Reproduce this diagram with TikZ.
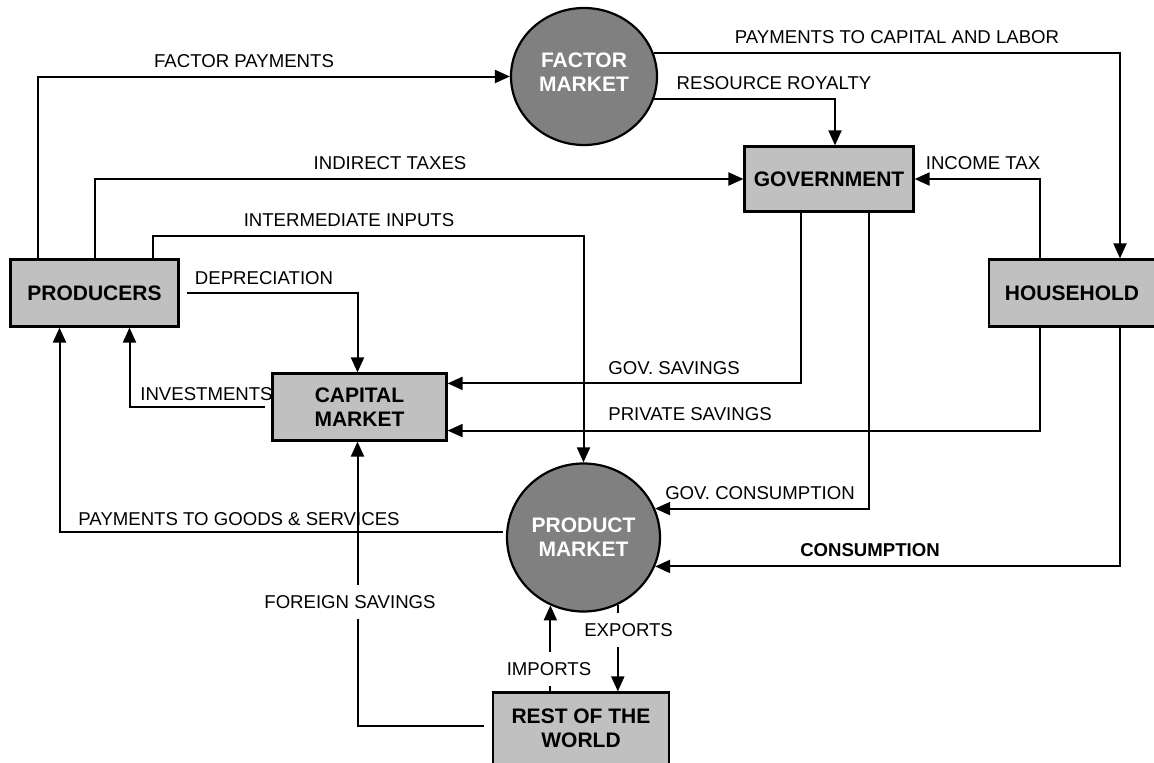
\documentclass[tikz,border=0pt]{standalone}
\usepackage{fontspec}
\setmainfont{Liberation Sans}
\usepackage{xcolor}
\usetikzlibrary{shapes.geometric,arrows.meta}

\definecolor{boxgray}{HTML}{C0C0C0}
\definecolor{marketgray}{HTML}{808080}

\begin{document}
\begin{tikzpicture}[x=1pt, y=-1pt,
        flow/.style={-{Triangle[length=15pt,width=13pt]}, line width=2pt},
        agent/.style={draw, line width=2.2pt, fill=boxgray, inner sep=0pt, align=center,
            font=\fontsize{21}{24}\selectfont\bfseries},
        market/.style={ellipse, draw, line width=2.2pt, fill=marketgray, text=white, inner sep=0pt,
            align=center, font=\fontsize{21}{24}\selectfont\bfseries},
        lbl/.style={inner sep=0pt, font=\fontsize{18.6}{22}\selectfont},
        gaplbl/.style={lbl, fill=white, inner xsep=2pt, inner ysep=10.5pt}]
        \useasboundingbox (0,0) rectangle (1154,763);

        % Agents
        \node[agent, minimum width=168, minimum height=67] (prod) at (94.5,293) {PRODUCERS};
        \node[agent, minimum width=174, minimum height=67] (cap) at (359.5,407) {CAPITAL\\MARKET};
        \node[agent, minimum width=169, minimum height=65] (gov) at (829,179) {GOVERNMENT};
        \node[agent, minimum width=166, minimum height=67] (hh) at (1072,293) {HOUSEHOLD};
        \node[agent, minimum width=176, minimum height=72] (row) at (581,728.5) {REST OF THE\\WORLD};

        % Markets
        \node[market, minimum width=146, minimum height=137] (fm) at (584,76.5)
            {FACTOR\\MARKET\rule[-9pt]{0pt}{0pt}};
        \node[market, minimum width=153, minimum height=148] (pm) at (583.5,537.5) {PRODUCT\\MARKET};

        % Factor flows
        \draw[flow] ([xshift=-56.5]prod.north) |- (fm);
        \draw[flow] (fm.19) -| ([xshift=48]hh.north);
        \draw[flow] (fm.-18) -| ([xshift=6]gov.north);

        % Producers
        \draw[flow] (prod.north) |- (gov);
        \draw[flow] ([xshift=-27]prod.north east) -- ++(0,-22) -| (pm);
        \draw[flow] ([xshift=7]prod.east) -| ([xshift=-2]cap.north);

        % Capital market
        \draw[flow] ([xshift=-6]cap.west) -| ([xshift=35]prod.south);
        \draw[flow] ([xshift=-28.5]gov.south) |- ([yshift=-11]cap.north east);
        \draw[flow] ([xshift=-32]hh.south) |- ([yshift=11]cap.south east);
        \draw[flow] ([xshift=-8,yshift=2.5]row.west) -| ([xshift=-2]cap.south);

        % Product market
        \draw[flow] ([xshift=-3,yshift=5.5]pm.west) -| ([xshift=-35]prod.south);
        \draw[flow] ([xshift=40]gov.south) |- (pm.22);
        \draw[flow] ([xshift=48]hh.south) |- (pm.-22);
        \draw[flow] ([xshift=-32]hh.north) |- (gov);
        \draw[flow] (pm.-116 |- row.north) -- (pm.-116);
        \draw[flow] (pm.-63) -- (pm.-63 |- row.north);

        % Labels
        \foreach \nm/\lx/\ly/\txt in {
                lfacpay/244/61/FACTOR PAYMENTS,
                lcaplab/897/37.5/PAYMENTS TO CAPITAL AND LABOR,
                lroyal/774/83.3/RESOURCE ROYALTY,
                lindtax/390/163/INDIRECT TAXES,
                linctax/983/163/INCOME TAX,
                linter/349/219.7/INTERMEDIATE INPUTS,
                ldepr/264/277.8/DEPRECIATION,
                lgovsav/674/368.3/GOV. SAVINGS,
                linvest/206.5/394/INVESTMENTS,
                lprivsav/690/413.7/PRIVATE SAVINGS,
                lgovcons/760/493.3/GOV. CONSUMPTION,
                lgoods/239/519.5/PAYMENTS TO GOODS \& SERVICES}
            \node[lbl] (\nm) at (\lx,\ly) {\txt};
        \node[lbl, font=\fontsize{18.6}{22}\selectfont\bfseries] (lcons) at (870,550.3) {CONSUMPTION};
        \node[gaplbl] (lforeign) at (350,602) {FOREIGN SAVINGS};
        \node[gaplbl] (lexports) at (628.6,630) {EXPORTS};
        \node[gaplbl] (limports) at (549,669.3) {IMPORTS};
\end{tikzpicture}
\end{document}
